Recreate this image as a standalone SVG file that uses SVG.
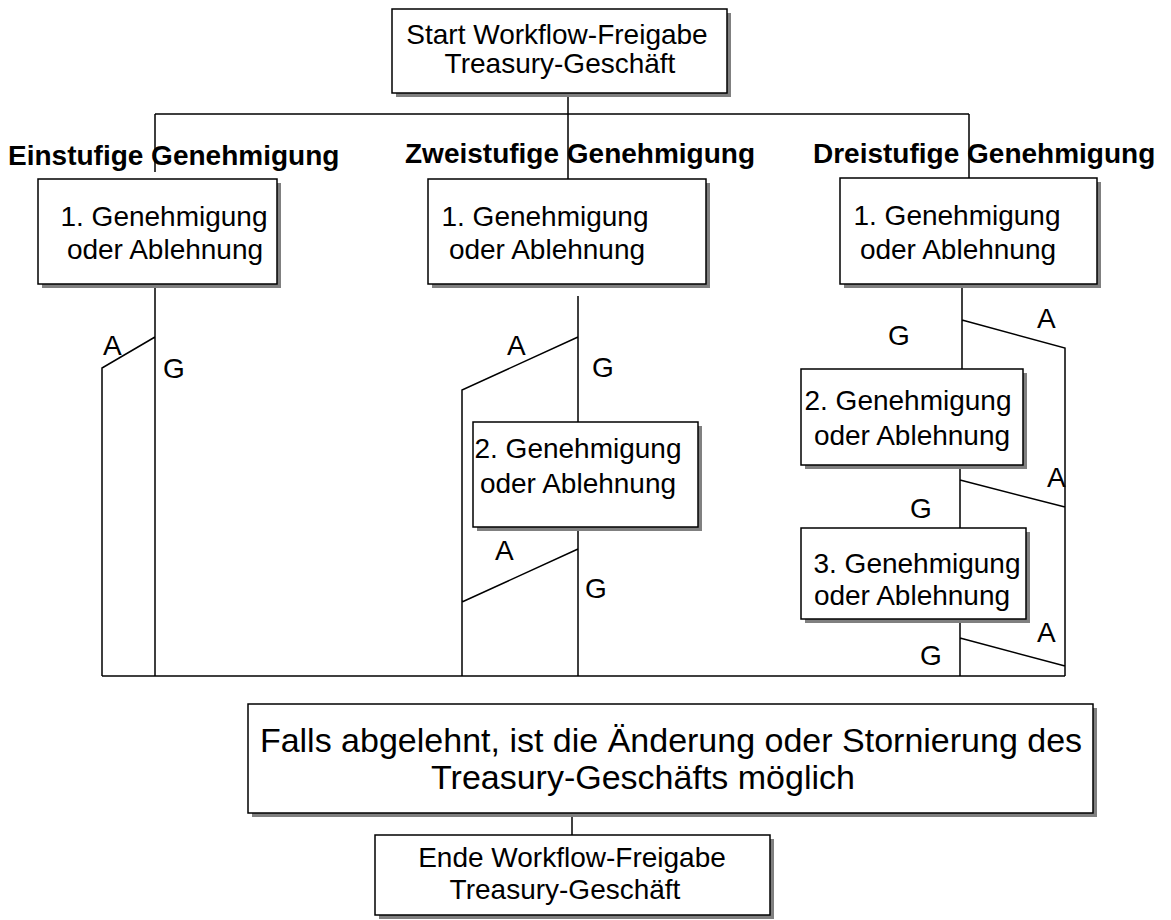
<svg xmlns="http://www.w3.org/2000/svg" width="1171" height="920" viewBox="0 0 1171 920">
<style>
.sh{fill:#808080}
.bx{fill:#fff;stroke:#000;stroke-width:1.5}
.t{font-family:"Liberation Sans",Arial,sans-serif;font-size:28px;fill:#000}
.c{text-anchor:middle}
.b{font-family:"Liberation Sans",Arial,sans-serif;font-size:28px;font-weight:bold;fill:#000}
.ln{fill:none;stroke:#000;stroke-width:1.5}
</style>
<rect width="1171" height="920" fill="#fff"/>
<g id="connectors" class="ln">
<path d="M568 93V114M155 114H969M155 114V172M568 114V179M969 114V178"/>
<path d="M155 284V676M155 337L102 368V676"/>
<path d="M578 296V422M578 337L462 390V676M578 527V676M578 549L462 602"/>
<path d="M962 284V369M962 320L1065 348V676M960 465V528M960 480L1065 507M960 619V676M960 638L1065 666"/>
<path d="M102 676H1065"/>
<path d="M572 813V835"/>
</g>
<g id="labels">
<text class="b" x="8" y="165">Einstufige Genehmigung</text>
<text class="b" x="405" y="163">Zweistufige Genehmigung</text>
<text class="b" x="813" y="163">Dreistufige Genehmigung</text>
<text class="t" x="103" y="355">A</text>
<text class="t" x="163" y="378">G</text>
<text class="t" x="507" y="355">A</text>
<text class="t" x="592" y="377">G</text>
<text class="t" x="495" y="560">A</text>
<text class="t" x="585" y="598">G</text>
<text class="t" x="1037" y="328">A</text>
<text class="t" x="888" y="345">G</text>
<text class="t" x="1047" y="487">A</text>
<text class="t" x="910" y="518">G</text>
<text class="t" x="1037" y="642">A</text>
<text class="t" x="920" y="665">G</text>
</g>
<g id="start">
<rect class="sh" x="396" y="13" width="335" height="84"/>
<rect class="bx" x="392" y="9" width="335" height="84"/>
<text class="t c" x="557" y="44">Start Workflow-Freigabe</text>
<text class="t c" x="560" y="73">Treasury-Geschäft</text>
</g>
<g id="e1">
<rect class="sh" x="42" y="183" width="239" height="105"/>
<rect class="bx" x="38" y="179" width="239" height="105"/>
<text class="t c" x="164" y="226">1. Genehmigung</text>
<text class="t c" x="165" y="259">oder Ablehnung</text>
</g>
<g id="z1">
<rect class="sh" x="432" y="183" width="278" height="105"/>
<rect class="bx" x="428" y="179" width="278" height="105"/>
<text class="t c" x="545" y="226">1. Genehmigung</text>
<text class="t c" x="547" y="259">oder Ablehnung</text>
</g>
<g id="z2">
<rect class="sh" x="477" y="426" width="225" height="105"/>
<rect class="bx" x="473" y="422" width="225" height="105"/>
<text class="t c" x="578" y="458">2. Genehmigung</text>
<text class="t c" x="578" y="493">oder Ablehnung</text>
</g>
<g id="d1">
<rect class="sh" x="844" y="182" width="257" height="106"/>
<rect class="bx" x="840" y="178" width="257" height="106"/>
<text class="t c" x="957" y="225">1. Genehmigung</text>
<text class="t c" x="958" y="259">oder Ablehnung</text>
</g>
<g id="d2">
<rect class="sh" x="805" y="373" width="222" height="96"/>
<rect class="bx" x="801" y="369" width="222" height="96"/>
<text class="t c" x="908" y="410">2. Genehmigung</text>
<text class="t c" x="912" y="445">oder Ablehnung</text>
</g>
<g id="d3">
<rect class="sh" x="805" y="532" width="225" height="91"/>
<rect class="bx" x="801" y="528" width="225" height="91"/>
<text class="t c" x="917" y="573">3. Genehmigung</text>
<text class="t c" x="912" y="605">oder Ablehnung</text>
</g>
<g id="falls">
<rect class="sh" x="252" y="708" width="845" height="109"/>
<rect class="bx" x="248" y="704" width="845" height="109"/>
<text class="t c" x="671" y="752" style="font-size:34px">Falls abgelehnt, ist die Änderung oder Stornierung des</text>
<text class="t c" x="643" y="789" style="font-size:34px">Treasury-Geschäfts möglich</text>
</g>
<g id="ende">
<rect class="sh" x="379" y="839" width="395" height="80"/>
<rect class="bx" x="375" y="835" width="395" height="80"/>
<text class="t c" x="572" y="867">Ende Workflow-Freigabe</text>
<text class="t c" x="565" y="899">Treasury-Geschäft</text>
</g>
</svg>
